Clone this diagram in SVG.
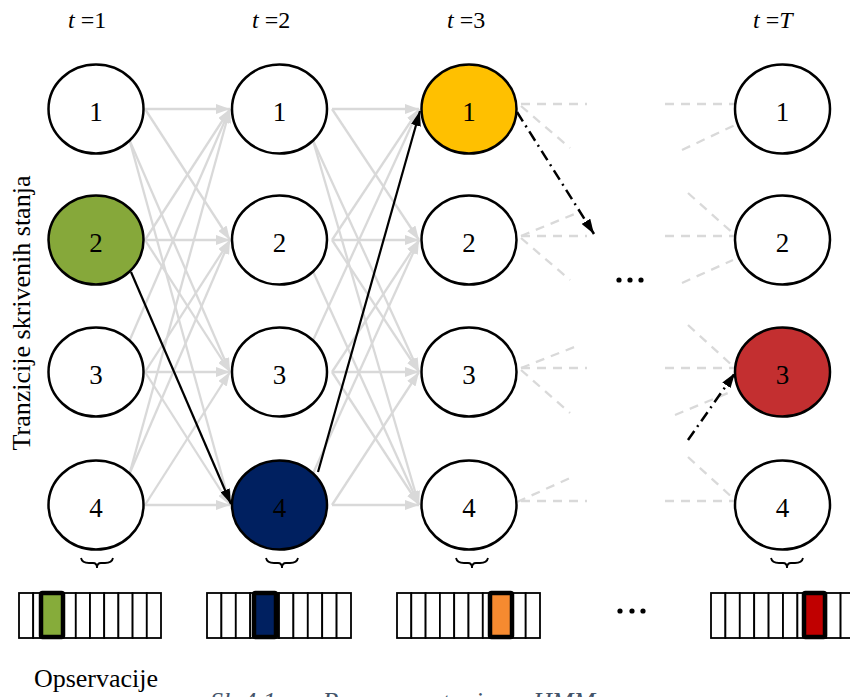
<svg xmlns="http://www.w3.org/2000/svg" width="850" height="697" viewBox="0 0 850 697">
<style>
.nd{stroke:#000;stroke-width:2.5}
.lbl{font-family:"Liberation Serif","Times New Roman",serif;font-size:27px;text-anchor:middle;fill:#000}
.side{font-family:"Liberation Serif","Times New Roman",serif;font-size:26px;text-anchor:middle;fill:#000}
.top{font-family:"Liberation Serif","Times New Roman",serif;font-size:24px;fill:#000}
.g{stroke:#d9d9d9;stroke-width:2.3;fill:none;marker-end:url(#ga)}
.gd{stroke:#d9d9d9;stroke-width:2.3;fill:none;stroke-dasharray:9 7}
.k{stroke:#000;stroke-width:2.2;fill:none;marker-end:url(#ka)}
.kd{stroke:#000;stroke-width:2.5;fill:none;stroke-dasharray:11 5 2 5;marker-end:url(#ka)}
.cell{fill:#fff;stroke:#000;stroke-width:1.8}
.hl{stroke:#000;stroke-width:4.5}
.br{fill:none;stroke:#000;stroke-width:1.8}
</style>
<defs>
<marker id="ga" markerUnits="userSpaceOnUse" markerWidth="14" markerHeight="10" refX="14" refY="5" orient="auto"><path d="M0,0 L14,5 L0,10 z" fill="#d9d9d9"/></marker>
<marker id="ka" markerUnits="userSpaceOnUse" markerWidth="15" markerHeight="10" refX="15" refY="5" orient="auto"><path d="M0,0 L15,5 L0,10 z" fill="#000"/></marker>
</defs>
<rect width="850" height="697" fill="#fff"/>

<g id="connectors">
<line class="g" x1="145" y1="109" x2="230" y2="109"/>
<line class="g" x1="145" y1="109" x2="230" y2="240"/>
<line class="g" x1="129.6" y1="140.5" x2="230" y2="372"/>
<line class="g" x1="129.6" y1="140.5" x2="230" y2="505"/>
<line class="g" x1="145" y1="240" x2="230" y2="109"/>
<line class="g" x1="145" y1="240" x2="230" y2="240"/>
<line class="g" x1="145" y1="240" x2="230" y2="372"/>
<line class="g" x1="129.6" y1="340.5" x2="230" y2="109"/>
<line class="g" x1="145" y1="372" x2="230" y2="240"/>
<line class="g" x1="145" y1="372" x2="230" y2="372"/>
<line class="g" x1="145" y1="372" x2="230" y2="505"/>
<line class="g" x1="129.6" y1="473.5" x2="230" y2="109"/>
<line class="g" x1="129.6" y1="473.5" x2="230" y2="240"/>
<line class="g" x1="145" y1="505" x2="230" y2="372"/>
<line class="g" x1="145" y1="505" x2="230" y2="505"/>
<line class="g" x1="332" y1="109" x2="419" y2="109"/>
<line class="g" x1="332" y1="109" x2="419" y2="240"/>
<line class="g" x1="313" y1="140.5" x2="419" y2="372"/>
<line class="g" x1="313" y1="140.5" x2="419" y2="505"/>
<line class="g" x1="332" y1="240" x2="419" y2="109"/>
<line class="g" x1="332" y1="240" x2="419" y2="240"/>
<line class="g" x1="332" y1="240" x2="419" y2="372"/>
<line class="g" x1="313" y1="271.5" x2="419" y2="505"/>
<line class="g" x1="313" y1="340.5" x2="419" y2="109"/>
<line class="g" x1="332" y1="372" x2="419" y2="240"/>
<line class="g" x1="332" y1="372" x2="419" y2="372"/>
<line class="g" x1="332" y1="372" x2="419" y2="505"/>
<line class="g" x1="313" y1="473.5" x2="419" y2="240"/>
<line class="g" x1="332" y1="505" x2="419" y2="372"/>
<line class="g" x1="332" y1="505" x2="419" y2="505"/>
<line class="gd" x1="521" y1="104" x2="587" y2="104"/>
<line class="gd" x1="521" y1="106" x2="570" y2="148"/>
<line class="gd" x1="521" y1="236" x2="577" y2="213"/>
<line class="gd" x1="521" y1="236" x2="587" y2="236"/>
<line class="gd" x1="521" y1="238" x2="570" y2="280"/>
<line class="gd" x1="521" y1="368" x2="577" y2="346"/>
<line class="gd" x1="521" y1="368" x2="587" y2="368"/>
<line class="gd" x1="521" y1="370" x2="570" y2="413"/>
<line class="gd" x1="517" y1="502" x2="570" y2="478"/>
<line class="gd" x1="521" y1="501" x2="587" y2="501"/>
<line class="gd" x1="665" y1="104" x2="735" y2="104"/>
<line class="gd" x1="682" y1="150" x2="735" y2="125"/>
<line class="gd" x1="688" y1="193" x2="735" y2="235"/>
<line class="gd" x1="665" y1="236" x2="735" y2="236"/>
<line class="gd" x1="682" y1="283" x2="733" y2="260"/>
<line class="gd" x1="688" y1="325" x2="735" y2="368"/>
<line class="gd" x1="665" y1="368" x2="735" y2="368"/>
<line class="gd" x1="675" y1="415" x2="728" y2="393"/>
<line class="gd" x1="688" y1="457" x2="735" y2="500"/>
<line class="gd" x1="665" y1="501" x2="735" y2="501"/>
<line class="k" x1="131" y1="272" x2="231" y2="504"/>
<line class="k" x1="318" y1="472" x2="420" y2="111"/>
<line class="kd" x1="517" y1="112" x2="594" y2="234"/>
<line class="kd" x1="688" y1="440" x2="735" y2="373"/>
</g>

<g id="n1_1"><ellipse class="nd" cx="96" cy="109" rx="47.5" ry="44.5" fill="#fff"/><text class="lbl" x="96" y="121">1</text></g>
<g id="n1_2"><ellipse class="nd" cx="96" cy="240" rx="47.5" ry="44.5" fill="#86a83a"/><text class="lbl" x="96" y="252">2</text></g>
<g id="n1_3"><ellipse class="nd" cx="96" cy="372" rx="47.5" ry="44.5" fill="#fff"/><text class="lbl" x="96" y="384">3</text></g>
<g id="n1_4"><ellipse class="nd" cx="96" cy="505" rx="47.5" ry="44.5" fill="#fff"/><text class="lbl" x="96" y="517">4</text></g>

<g id="n2_1"><ellipse class="nd" cx="279.5" cy="109" rx="47.5" ry="44.5" fill="#fff"/><text class="lbl" x="279.5" y="121">1</text></g>
<g id="n2_2"><ellipse class="nd" cx="279.5" cy="240" rx="47.5" ry="44.5" fill="#fff"/><text class="lbl" x="279.5" y="252">2</text></g>
<g id="n2_3"><ellipse class="nd" cx="279.5" cy="372" rx="47.5" ry="44.5" fill="#fff"/><text class="lbl" x="279.5" y="384">3</text></g>
<g id="n2_4"><ellipse class="nd" cx="279.5" cy="505" rx="47.5" ry="44.5" fill="#002060"/><text class="lbl" x="279.5" y="517">4</text></g>

<g id="n3_1"><ellipse class="nd" cx="469" cy="109" rx="47.5" ry="44.5" fill="#ffc000"/><text class="lbl" x="469" y="121">1</text></g>
<g id="n3_2"><ellipse class="nd" cx="469" cy="240" rx="47.5" ry="44.5" fill="#fff"/><text class="lbl" x="469" y="252">2</text></g>
<g id="n3_3"><ellipse class="nd" cx="469" cy="372" rx="47.5" ry="44.5" fill="#fff"/><text class="lbl" x="469" y="384">3</text></g>
<g id="n3_4"><ellipse class="nd" cx="469" cy="505" rx="47.5" ry="44.5" fill="#fff"/><text class="lbl" x="469" y="517">4</text></g>

<g id="nT_1"><ellipse class="nd" cx="782.5" cy="109" rx="47.5" ry="44.5" fill="#fff"/><text class="lbl" x="782.5" y="121">1</text></g>
<g id="nT_2"><ellipse class="nd" cx="782.5" cy="240" rx="47.5" ry="44.5" fill="#fff"/><text class="lbl" x="782.5" y="252">2</text></g>
<g id="nT_3"><ellipse class="nd" cx="782.5" cy="372" rx="47.5" ry="44.5" fill="#c32f30"/><text class="lbl" x="782.5" y="384">3</text></g>
<g id="nT_4"><ellipse class="nd" cx="782.5" cy="505" rx="47.5" ry="44.5" fill="#fff"/><text class="lbl" x="782.5" y="517">4</text></g>

<g id="labels">
<text class="top" x="68" y="28"><tspan font-style="italic">t</tspan> =1</text>
<text class="top" x="252" y="28"><tspan font-style="italic">t</tspan> =2</text>
<text class="top" x="447" y="28"><tspan font-style="italic">t</tspan> =3</text>
<text class="top" x="753" y="28"><tspan font-style="italic">t</tspan> =<tspan font-style="italic">T</tspan></text>
<text class="side" transform="translate(30,313) rotate(-90)">Tranzicije skrivenih stanja</text>
<text class="side" x="96" y="687">Opservacije</text>
<g fill="#000"><circle cx="619" cy="280" r="2.6"/><circle cx="630" cy="280" r="2.6"/><circle cx="641" cy="280" r="2.6"/>
<circle cx="620" cy="611" r="2.6"/><circle cx="632" cy="611" r="2.6"/><circle cx="643" cy="611" r="2.6"/></g>
<text x="210" y="710" font-family="Liberation Serif, Times New Roman, serif" font-size="26" font-style="italic" fill="#44546a">Sl. 4.1.<tspan x="303">– Procena putanje u </tspan><tspan x="533">HMM</tspan></text>
</g>

<g id="braces">
<path class="br" d="M81,558 Q82,563 89,563 L93,563 Q97,563 97,568 Q97,563 101,563 L105,563 Q112,563 113,558"/>
<path class="br" d="M266,558 Q267,563 274,563 L278,563 Q282,563 282,568 Q282,563 286,563 L290,563 Q297,563 298,558"/>
<path class="br" d="M456,558 Q457,563 464,563 L468,563 Q472,563 472,568 Q472,563 476,563 L480,563 Q487,563 488,558"/>
<path class="br" d="M771,558 Q772,563 779,563 L783,563 Q787,563 787,568 Q787,563 791,563 L795,563 Q802,563 803,558"/>
</g>

<g id="obs1">
<rect class="cell" x="19" y="593" width="14.2" height="45"/><rect class="cell" x="33.2" y="593" width="14.2" height="45"/><rect class="cell" x="47.4" y="593" width="14.2" height="45"/><rect class="cell" x="61.6" y="593" width="14.2" height="45"/><rect class="cell" x="75.8" y="593" width="14.2" height="45"/><rect class="cell" x="90" y="593" width="14.2" height="45"/><rect class="cell" x="104.2" y="593" width="14.2" height="45"/><rect class="cell" x="118.4" y="593" width="14.2" height="45"/><rect class="cell" x="132.6" y="593" width="14.2" height="45"/><rect class="cell" x="146.8" y="593" width="14.2" height="45"/>
<rect class="hl" x="41" y="593" width="22" height="44" rx="1.5" fill="#86ac3a"/>
</g>
<g id="obs2">
<rect class="cell" x="207" y="593" width="14.4" height="45"/><rect class="cell" x="221.4" y="593" width="14.4" height="45"/><rect class="cell" x="235.8" y="593" width="14.4" height="45"/><rect class="cell" x="250.2" y="593" width="14.4" height="45"/><rect class="cell" x="264.6" y="593" width="14.4" height="45"/><rect class="cell" x="279" y="593" width="14.4" height="45"/><rect class="cell" x="293.4" y="593" width="14.4" height="45"/><rect class="cell" x="307.8" y="593" width="14.4" height="45"/><rect class="cell" x="322.2" y="593" width="14.4" height="45"/><rect class="cell" x="336.6" y="593" width="14.4" height="45"/>
<rect class="hl" x="254" y="593" width="22" height="44" rx="1.5" fill="#002060"/>
</g>
<g id="obs3">
<rect class="cell" x="397" y="593" width="14.3" height="45"/><rect class="cell" x="411.3" y="593" width="14.3" height="45"/><rect class="cell" x="425.6" y="593" width="14.3" height="45"/><rect class="cell" x="439.9" y="593" width="14.3" height="45"/><rect class="cell" x="454.2" y="593" width="14.3" height="45"/><rect class="cell" x="468.5" y="593" width="14.3" height="45"/><rect class="cell" x="482.8" y="593" width="14.3" height="45"/><rect class="cell" x="497.1" y="593" width="14.3" height="45"/><rect class="cell" x="511.4" y="593" width="14.3" height="45"/><rect class="cell" x="525.7" y="593" width="14.3" height="45"/>
<rect class="hl" x="490" y="593" width="22" height="44" rx="1.5" fill="#f68a30"/>
</g>
<g id="obsT">
<rect class="cell" x="711" y="593" width="14.4" height="45"/><rect class="cell" x="725.4" y="593" width="14.4" height="45"/><rect class="cell" x="739.8" y="593" width="14.4" height="45"/><rect class="cell" x="754.2" y="593" width="14.4" height="45"/><rect class="cell" x="768.6" y="593" width="14.4" height="45"/><rect class="cell" x="783" y="593" width="14.4" height="45"/><rect class="cell" x="797.4" y="593" width="14.4" height="45"/><rect class="cell" x="811.8" y="593" width="14.4" height="45"/><rect class="cell" x="826.2" y="593" width="14.4" height="45"/><rect class="cell" x="840.6" y="593" width="14.4" height="45"/>
<rect class="hl" x="804" y="593" width="21" height="44" rx="1.5" fill="#c00000"/>
</g>
</svg>
